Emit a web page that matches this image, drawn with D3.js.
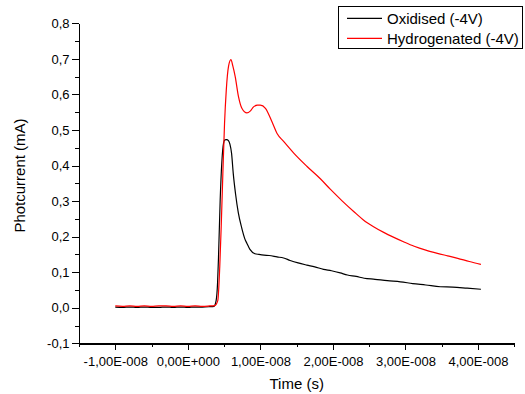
<!DOCTYPE html>
<html>
<head>
<meta charset="utf-8">
<title></title>
<script src="https://d3js.org/d3.v7.min.js"></script>
<style>
  body { margin: 0; background: #fff; }
  svg { display: block; font-family: "Liberation Sans", Arial, sans-serif; }
  .axis path, .axis line { stroke: #000; shape-rendering: crispEdges; }
  .axis text { font-size: 13px; fill: #000; font-family: "Liberation Sans", Arial, sans-serif; }
  .title { font-size: 15px; fill: #000; }
</style>
</head>
<body>
<svg></svg>
<script>
// time in ns, photocurrent in mA
var oxT = [-10, -9, -8, -7, -6, -5, -4, -3, -2, -1, 0, 1, 2, 3, 3.6, 3.9, 4.1, 4.23, 4.46, 4.69, 4.92, 5.1, 5.35, 5.6, 5.8, 6.03, 6.26, 6.58, 6.95, 7.41, 7.87, 8.15, 8.56, 9.25, 9.8, 10.5, 11.2, 12.3, 13.2, 14.1, 15.2, 16.4, 17.5, 18.7, 19.8, 21.0, 22.0, 23.2, 24.3, 25.8, 27.5, 29.3, 31.0, 32.8, 34.8, 36.5, 38.5, 40.4];
var oxV = [0.002, 0.001, 0.002, 0.001, 0.002, 0.001, 0.001, 0.002, 0.001, 0.002, 0.001, 0.002, 0.002, 0.003, 0.004, 0.02, 0.07, 0.143, 0.303, 0.41, 0.462, 0.472, 0.473, 0.47, 0.46, 0.434, 0.378, 0.32, 0.268, 0.226, 0.193, 0.181, 0.164, 0.152, 0.15, 0.148, 0.147, 0.143, 0.14, 0.133, 0.126, 0.12, 0.115, 0.108, 0.104, 0.098, 0.092, 0.088, 0.083, 0.08, 0.076, 0.073, 0.068, 0.064, 0.059, 0.058, 0.055, 0.052];

var hyT = [-10, -9, -8, -7, -6, -5, -4, -3, -2, -1, 0, 1, 2, 3, 3.7, 4.13, 4.4, 4.6, 4.83, 5.06, 5.3, 5.62, 5.94, 6.2, 6.53, 6.99, 7.45, 8.15, 8.6, 9.06, 9.6, 9.99, 10.7, 11.6, 12.3, 13.2, 14.6, 16.4, 18.3, 19.7, 21.3, 22.9, 24.2, 25.6, 27.0, 28.4, 29.8, 31.2, 32.8, 34.4, 35.8, 37.2, 38.8, 40.4];
var hyV = [0.005, 0.004, 0.005, 0.004, 0.005, 0.004, 0.005, 0.005, 0.004, 0.005, 0.004, 0.005, 0.004, 0.005, 0.006, 0.02, 0.115, 0.228, 0.378, 0.518, 0.612, 0.68, 0.698, 0.68, 0.65, 0.593, 0.561, 0.548, 0.553, 0.565, 0.57, 0.57, 0.561, 0.523, 0.49, 0.468, 0.435, 0.398, 0.362, 0.332, 0.3, 0.27, 0.247, 0.228, 0.212, 0.198, 0.185, 0.173, 0.162, 0.153, 0.146, 0.139, 0.13, 0.122];

var xTicks = [-1e-8, 0, 1e-8, 2e-8, 3e-8, 4e-8];
var xTickLabels = ["-1,00E-008", "0,00E+000", "1,00E-008", "2,00E-008", "3,00E-008", "4,00E-008"];
var xMinor = [-1.5e-8, -0.5e-8, 0.5e-8, 1.5e-8, 2.5e-8, 3.5e-8, 4.5e-8];
var yTicks = [-0.1, 0, 0.1, 0.2, 0.3, 0.4, 0.5, 0.6, 0.7, 0.8];
var yTickLabels = ["-0,1", "0,0", "0,1", "0,2", "0,3", "0,4", "0,5", "0,6", "0,7", "0,8"];
var yMinor = [-0.05, 0.05, 0.15, 0.25, 0.35, 0.45, 0.55, 0.65, 0.75];

var seriesNames = ["Oxidised (-4V)", "Hydrogenated (-4V)"];
var seriesColors = ["#000000", "#ff0000"];

var width = 525, height = 394;
var x = d3.scaleLinear().domain([-1.5e-8, 4.5e-8]).range([79, 514.3]);
var y = d3.scaleLinear().domain([-0.1, 0.8]).range([343.3, 23.3]);

var svg = d3.select("svg").attr("width", width).attr("height", height);

// minor ticks first
svg.append("g")
  .attr("class", "axis")
  .attr("transform", "translate(0," + y(-0.1) + ")")
  .call(d3.axisBottom(x).tickValues(xMinor).tickSize(4).tickFormat(""))
  .select(".domain").remove();

svg.append("g")
  .attr("class", "axis")
  .attr("transform", "translate(" + x(-1.5e-8) + ",0)")
  .call(d3.axisLeft(y).tickValues(yMinor).tickSize(4).tickFormat(""))
  .select(".domain").remove();

var xAxis = svg.append("g")
  .attr("class", "axis")
  .attr("transform", "translate(0," + y(-0.1) + ")")
  .call(d3.axisBottom(x).tickValues(xTicks).tickSizeInner(6.5).tickSizeOuter(0)
    .tickFormat(function(d, i) { return xTickLabels[i]; }));
xAxis.select(".domain").attr("stroke-width", 1.5);
xAxis.selectAll("text").attr("y", 22.5).attr("dy", 0);

var yAxis = svg.append("g")
  .attr("class", "axis")
  .attr("transform", "translate(" + x(-1.5e-8) + ",0)")
  .call(d3.axisLeft(y).tickValues(yTicks).tickSizeInner(7).tickSizeOuter(0)
    .tickFormat(function(d, i) { return yTickLabels[i]; }));
yAxis.select(".domain").attr("stroke-width", 1.5);
yAxis.selectAll("text").attr("x", -9.5);

// axis titles
svg.append("text")
  .attr("class", "title")
  .attr("x", 296.7).attr("y", 389)
  .attr("text-anchor", "middle")
  .text("Time (s)");

svg.append("text")
  .attr("class", "title")
  .attr("transform", "translate(24.5,175.5) rotate(-90)")
  .attr("text-anchor", "middle")
  .text("Photcurrent (mA)");

// curves
var line = d3.line()
  .x(function(d) { return x(d[0] * 1e-9); })
  .y(function(d) { return y(d[1]); })
  .curve(d3.curveMonotoneX);

var series = [d3.zip(oxT, oxV), d3.zip(hyT, hyV)];

svg.selectAll(".curve")
  .data(series)
  .enter().append("path")
  .attr("class", "curve")
  .attr("d", line)
  .attr("fill", "none")
  .attr("stroke", function(d, i) { return seriesColors[i]; })
  .attr("stroke-width", 1.2);

// legend
var legend = svg.append("g");
legend.append("rect")
  .attr("x", 338.5).attr("y", 6.5)
  .attr("width", 184).attr("height", 42)
  .attr("fill", "#fff").attr("stroke", "#000");

var item = legend.selectAll(".item")
  .data(seriesNames)
  .enter().append("g")
  .attr("transform", function(d, i) { return "translate(0," + (18.3 + i * 20) + ")"; });

item.append("line")
  .attr("x1", 347).attr("x2", 382)
  .attr("stroke", function(d, i) { return seriesColors[i]; })
  .attr("stroke-width", 1.2);

item.append("text")
  .attr("class", "title")
  .attr("x", 387).attr("y", 5.5)
  .text(function(d) { return d; });
</script>
</body>
</html>
